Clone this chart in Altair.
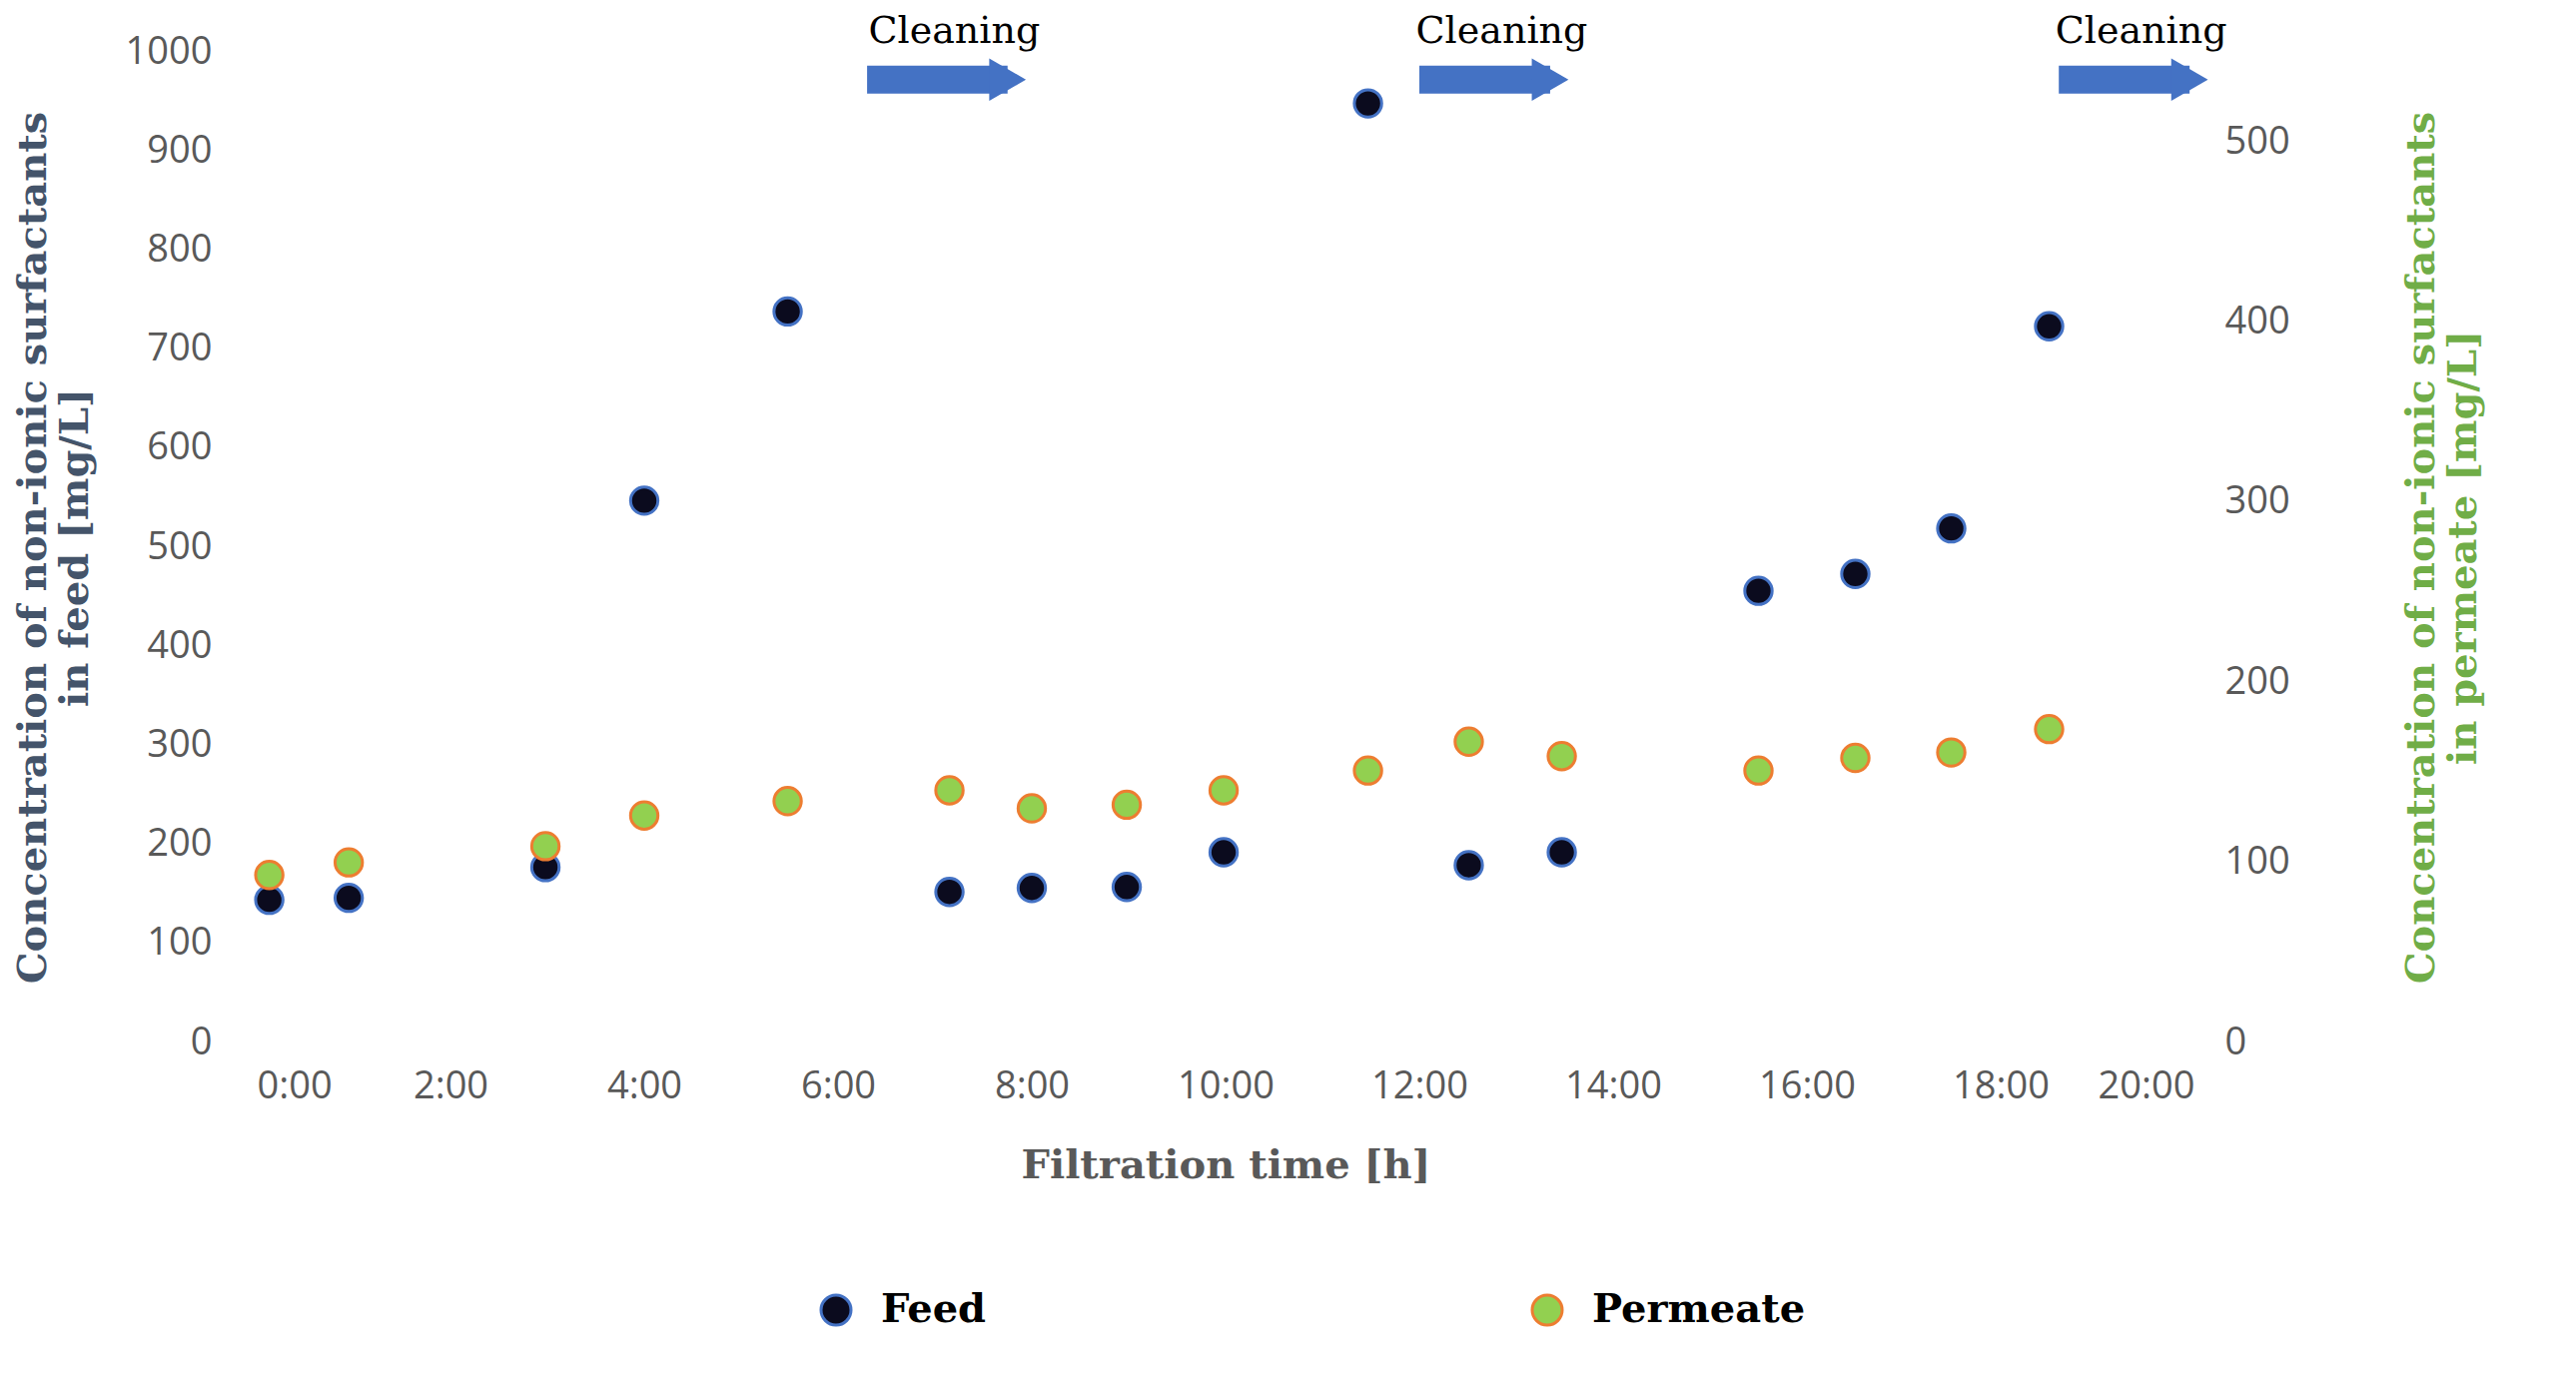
import altair as alt
import pandas as pd

# hours since start
time_h = [0.13, 0.95, 2.98, 4.0, 5.48, 7.15, 8.0, 8.98, 9.98, 11.47, 12.51, 13.47, 15.5, 16.5, 17.49, 18.5]
feed = [144, 146, 177, 547, 738, 152, 156, 157, 192, 948, 179, 192, 456, 473, 519, 723]
permeate = [93, 100, 109, 126, 134, 140, 130, 132, 140, 151, 167, 159, 151, 158, 161, 174]

clean_start = [6.3, 12.0, 18.6]
clean_end = [8.1, 13.7, 20.3]
clean_label = ["Cleaning", "Cleaning", "Cleaning"]

df = pd.DataFrame({"t": time_h, "feed": feed, "permeate": permeate})
arrows = pd.DataFrame({"s": clean_start, "e": clean_end, "label": clean_label})
arrows["shaft_end"] = arrows["e"] - 0.35
arrows["mid"] = (arrows["s"] + arrows["e"]) / 2

LABEL_FONT = "Open Sans"
TITLE_FONT = "DejaVu Serif"
GREY = "#595959"

xaxis = alt.Axis(values=list(range(0, 21, 2)), labelExpr="datum.value + ':00'",
                 title="Filtration time [h]", grid=False, domain=False, ticks=False,
                 labelFontSize=38, labelColor=GREY, labelFont=LABEL_FONT, labelPadding=25,
                 titleFont=TITLE_FONT, titleFontSize=40, titleColor=GREY, titlePadding=40)
xs = alt.Scale(domain=[0, 20], nice=False)

fill_scale = alt.Scale(domain=["Feed", "Permeate"], range=["#0b0b1e", "#92D050"])
stroke_scale = alt.Scale(domain=["Feed", "Permeate"], range=["#4472C4", "#ED7D31"])
legend = alt.Legend(title=None, orient="none", legendX=560, legendY=1240,
                    direction="horizontal", symbolSize=900, labelLimit=0,
                    labelFontSize=40, labelFont=TITLE_FONT, labelFontWeight="bold",
                    labelColor="#000000", columnPadding=540, symbolStrokeWidth=3, labelOffset=25)

base = alt.Chart(df)
feed_pts = base.mark_point(filled=True, size=750, strokeWidth=3, opacity=1).transform_calculate(
    series="'Feed'"
).encode(
    x=alt.X("t:Q", scale=xs, axis=xaxis),
    y=alt.Y("feed:Q", scale=alt.Scale(domain=[0, 1000], nice=False),
            axis=alt.Axis(values=list(range(0, 1001, 100)), format="d", grid=False, domain=False,
                          ticks=False, labelFontSize=38, labelColor=GREY, labelFont=LABEL_FONT,
                          labelPadding=45,
                          title=["Concentration of non-ionic surfactants", "in feed [mg/L]"],
                          titleFont=TITLE_FONT, titleFontSize=40, titleColor="#44546A",
                          titleFontWeight="bold", titlePadding=30)),
    fill=alt.Fill("series:N", scale=fill_scale, legend=legend),
    stroke=alt.Stroke("series:N", scale=stroke_scale, legend=legend),
)

arrow_y = 972
shaft = alt.Chart(arrows).mark_rule(strokeWidth=28, color="#4472C4").encode(
    x="s:Q", x2="shaft_end:Q", y=alt.datum(arrow_y))
head = alt.Chart(arrows).mark_point(shape="triangle-right", filled=True, size=1800,
                                    color="#4472C4", opacity=1).encode(
    x="shaft_end:Q", y=alt.datum(arrow_y))
text = alt.Chart(arrows).mark_text(font=TITLE_FONT, fontSize=38, color="#000000", dy=-5).encode(
    x="mid:Q", y=alt.datum(1015), text="label:N")

left = alt.layer(feed_pts, shaft, head, text)

perm_pts = base.mark_point(filled=True, size=750, strokeWidth=3, opacity=1).transform_calculate(
    series="'Permeate'"
).encode(
    x=alt.X("t:Q", scale=xs, axis=xaxis),
    y=alt.Y("permeate:Q", scale=alt.Scale(domain=[0, 550], nice=False),
            axis=alt.Axis(orient="right", values=list(range(0, 501, 100)), grid=False, domain=False,
                          ticks=False, labelFontSize=38, labelColor=GREY, labelFont=LABEL_FONT,
                          labelPadding=30,
                          title=["Concentration of non-ionic surfactants", "in permeate [mg/L]"],
                          titleAngle=270, titleFont=TITLE_FONT, titleFontSize=40,
                          titleColor="#70AD47", titleFontWeight="bold", titlePadding=110)),
    fill=alt.Fill("series:N", scale=fill_scale, legend=legend),
    stroke=alt.Stroke("series:N", scale=stroke_scale, legend=legend),
)

chart = alt.layer(left, perm_pts).resolve_scale(y="independent").properties(
    width=1940, height=992, background="white"
).configure_view(stroke=None)

chart.save("out.html", embed_options={"renderer": "svg", "actions": False})
